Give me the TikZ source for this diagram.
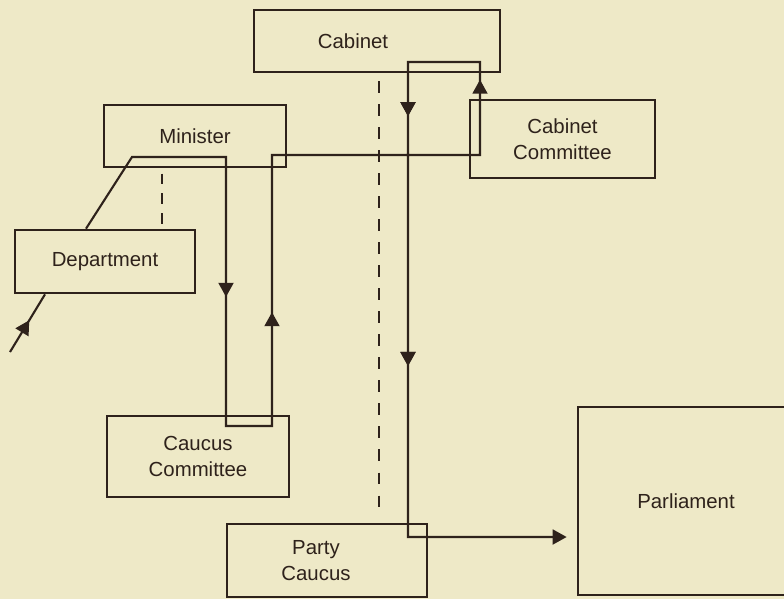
\documentclass[tikz,border=0pt]{standalone}
\usepackage{fontspec}
\setmainfont{Liberation Sans}
\usepackage{tikz}
\usetikzlibrary{arrows.meta,positioning,decorations.markings}
\definecolor{paper}{RGB}{238,233,199}
\definecolor{ink}{RGB}{46,34,27}
\def\pix{0.02cm}

\begin{document}
\begin{tikzpicture}[x=0.02cm,y=-0.02cm,
  boxtext/.style={text=ink,align=center,font=\fontsize{11.6}{14.5}\selectfont},
  box/.style={boxtext,draw=ink,line width=1.5pt,rectangle,inner sep=0pt},
  flow/.style={draw=ink,line width=1.2pt},
  link/.style={draw=ink,line width=1.4pt,dash pattern=on 6.8pt off 6.3pt},
  tipat/.style={postaction={decorate},decoration={markings,
    mark=at position #1 with {\arrow{Triangle[length=8pt,width=8.5pt]}}}}]
% page
\fill[paper] (0,0) rectangle (784,599);
\useasboundingbox (0,0) rectangle (784,599);
% Boxes
\node[box,minimum width=246*\pix,minimum height=62*\pix,
  label={[boxtext,xshift=-24*\pix]center:Cabinet}] (cabinet) at (377,41) {};
\node[box,minimum width=182*\pix,minimum height=62*\pix] (minister) at (195,136) {Minister};
\node[box,minimum width=185*\pix,minimum height=78*\pix] (cabcom) at (562.5,139) {Cabinet\\Committee};
\node[box,minimum width=180*\pix,minimum height=63*\pix] (dept) at (105,261.5) {Department};
\node[box,minimum width=182*\pix,minimum height=81*\pix] (caucom) at (198,456.5) {Caucus\\Committee};
\node[box,minimum width=200*\pix,minimum height=73*\pix,
  label={[boxtext,xshift=-11*\pix]center:Party\\Caucus}] (party) at (327,560.5) {};
\node[box,minimum width=216*\pix,minimum height=188*\pix] (parl) at (686,501) {Parliament};
% Bends of the route
\coordinate (src) at (10,352);
\coordinate (m1) at (132,157);
\coordinate (m2) at (226,157);
\coordinate (c1) at (226,426);
\coordinate (c2) at (272,426);
\coordinate (k1) at (272,155);
\coordinate (k2) at (480,155);
\coordinate (t1) at (480,62);
\coordinate (t2) at (408,62);
\coordinate (p1) at (408,537);
% Dashed links
\draw[link,dash pattern=on 5.9pt off 5.4pt,shorten <=3pt,shorten >=2.4pt]
  (162,0 |- minister.south) -- (162,0 |- dept.north);
\draw[link,shorten <=4.5pt,shorten >=8pt] (379,0 |- cabinet.south) -- (379,0 |- party.north);
% Route of a bill
\draw[flow,tipat=0.55] (src) -- (45,0 |- dept.south);
\draw[flow,-{Triangle[length=8pt,width=8.5pt]},shorten >=5.7pt]
  (86,0 |- dept.north) -- (m1) -- (m2) -- (c1) -- (c2) -- (k1) -- (k2)
  -- (t1) -- (t2) -- (p1) -- (parl.west |- p1);
\draw[flow,tipat=0.52] (m2) -- (c1);
\draw[flow,tipat=0.42] (c2) -- (k1);
\draw[flow,tipat=0.81] (k2) -- (t1);
\draw[flow,tipat=0.114,tipat=0.64] (t2) -- (p1);
\end{tikzpicture}
\end{document}
